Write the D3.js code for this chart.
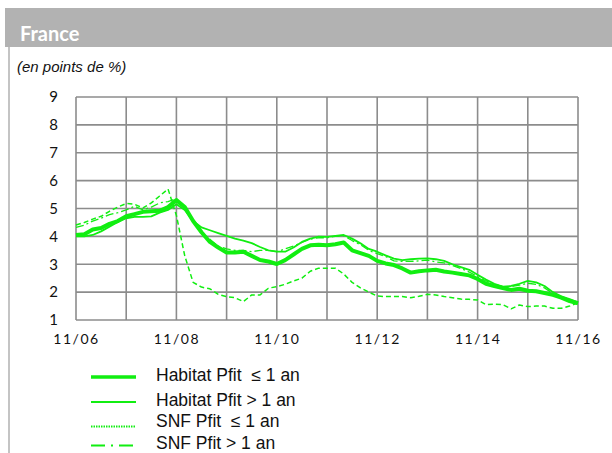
<!DOCTYPE html>
<meta charset="utf-8" />
<style>
  body { margin: 0; background: #fff; }
</style>
<svg width="612" height="453"></svg>
<script src="https://cdn.jsdelivr.net/npm/d3@7"></script>
<script>
    // one point every two months, 11/06 -> 11/16
    var habitatCourt = [4.05, 4.08, 4.25, 4.30, 4.45, 4.55, 4.72, 4.80, 4.88, 4.90,
        4.92, 5.05, 5.30, 5.05, 4.55, 4.15, 3.80, 3.60, 3.42, 3.42,
        3.45, 3.30, 3.15, 3.10, 3.01, 3.15, 3.35, 3.55, 3.68, 3.70,
        3.68, 3.72, 3.78, 3.50, 3.40, 3.30, 3.12, 3.03, 2.97, 2.85,
        2.70, 2.75, 2.78, 2.80, 2.74, 2.70, 2.65, 2.60, 2.47, 2.30,
        2.22, 2.15, 2.08, 2.12, 2.05, 2.03, 1.97, 1.90, 1.80, 1.68, 1.60];
    var habitatLong = [4.00, 4.00, 4.05, 4.18, 4.35, 4.52, 4.65, 4.70, 4.70, 4.72,
        4.85, 4.95, 5.15, 4.95, 4.55, 4.32, 4.22, 4.12, 4.02, 3.92,
        3.85, 3.76, 3.62, 3.50, 3.45, 3.45, 3.60, 3.80, 3.92, 3.99,
        3.98, 4.02, 4.05, 3.92, 3.75, 3.55, 3.45, 3.32, 3.20, 3.15,
        3.18, 3.20, 3.21, 3.18, 3.12, 3.00, 2.90, 2.80, 2.62, 2.45,
        2.30, 2.20, 2.22, 2.30, 2.40, 2.35, 2.22, 2.00, 1.85, 1.75, 1.63];
    var snfCourt = [4.41, 4.50, 4.62, 4.72, 4.90, 5.05, 5.18, 5.15, 5.02, 5.20,
        5.45, 5.70, 4.75, 3.30, 2.35, 2.18, 2.12, 1.92, 1.84, 1.80,
        1.66, 1.90, 1.90, 2.14, 2.20, 2.28, 2.40, 2.50, 2.75, 2.86,
        2.86, 2.86, 2.65, 2.35, 2.15, 2.00, 1.86, 1.84, 1.84, 1.84,
        1.80, 1.85, 1.92, 1.90, 1.84, 1.80, 1.75, 1.74, 1.72, 1.55,
        1.57, 1.55, 1.40, 1.54, 1.48, 1.50, 1.50, 1.42, 1.42, 1.50, 1.62];
    var snfLong = [4.32, 4.40, 4.55, 4.65, 4.78, 4.85, 4.95, 5.08, 4.95, 5.05,
        5.20, 5.25, 5.35, 5.00, 4.50, 4.10, 3.90, 3.65, 3.55, 3.50,
        3.50, 3.45, 3.50, 3.50, 3.45, 3.55, 3.65, 3.78, 3.90, 3.95,
        3.95, 4.00, 4.02, 3.85, 3.70, 3.50, 3.38, 3.28, 3.12, 3.10,
        3.10, 3.12, 3.15, 3.08, 3.05, 2.95, 2.85, 2.72, 2.55, 2.40,
        2.28, 2.20, 2.20, 2.25, 2.32, 2.28, 2.15, 1.95, 1.82, 1.70, 1.62];

    var xTickLabels = ["11/06", "11/08", "11/10", "11/12", "11/14", "11/16"];
    var yTicks = [1, 2, 3, 4, 5, 6, 7, 8, 9];

    var series = [
        { name: "Habitat Pfit  \u2264 1 an", values: habitatCourt, width: 4, dash: null, legDash: null },
        { name: "Habitat Pfit > 1 an", values: habitatLong, width: 1.8, dash: null, legDash: null },
        { name: "SNF Pfit  \u2264 1 an", values: snfCourt, width: 1.5, dash: "5,3", legDash: "1.5,1" },
        { name: "SNF Pfit > 1 an", values: snfLong, width: 1.3, dash: "8,3,2,3", legDash: "14,6,2,6" }
    ];

    var green = "#11ee11";
    var gridColor = "#8c8c8c";

    var svg = d3.select("svg");

    // header
    svg.append("rect").attr("x", 5).attr("y", 8).attr("width", 607).attr("height", 39)
        .attr("fill", "#b2b2b2");
    svg.append("line").attr("x1", 9).attr("x2", 9).attr("y1", 47).attr("y2", 453)
        .attr("stroke", "#c4c4c4").attr("stroke-width", 2);
    svg.append("text").attr("x", 20).attr("y", 41).text("France")
        .attr("fill", "#fff").attr("font-family", "Lato, 'Open Sans', sans-serif")
        .attr("font-weight", "bold").attr("font-size", 20);
    svg.append("text").attr("x", 17).attr("y", 72).text("(en points de %)")
        .attr("font-family", "'Liberation Sans', Arial, sans-serif")
        .attr("font-style", "italic").attr("font-size", 15).attr("fill", "#111");

    var plotL = 76, plotR = 578, plotT = 97, plotB = 320;

    var x = d3.scaleLinear().domain([0, 120]).range([plotL, plotR]);
    var y = d3.scaleLinear().domain([1, 9]).range([plotB, plotT]);

    // grid
    var grid = svg.append("g");
    grid.selectAll(".h").data(yTicks).enter().append("line")
        .attr("x1", plotL).attr("x2", plotR)
        .attr("y1", d => y(d)).attr("y2", d => y(d))
        .attr("stroke", gridColor).attr("stroke-width", 1.6);
    grid.selectAll(".v").data(d3.range(0, 121, 12)).enter().append("line")
        .attr("y1", plotT).attr("y2", plotB)
        .attr("x1", d => x(d)).attr("x2", d => x(d))
        .attr("stroke", gridColor).attr("stroke-width", 1.6);

    // y axis labels
    var yAxis = svg.append("g").attr("transform", "translate(" + (plotL - 15) + ",0)")
        .call(d3.axisLeft(y).tickValues(yTicks).tickSize(0).tickFormat(d3.format("d")));
    yAxis.select(".domain").remove();
    yAxis.selectAll("text").attr("font-family", "Lato, sans-serif").attr("font-size", 15)
        .attr("fill", "#111");

    // x axis labels
    var xAxis = svg.append("g").attr("transform", "translate(0," + (plotB + 11) + ")")
        .call(d3.axisBottom(x).tickValues(d3.range(0, 121, 24)).tickSize(0)
            .tickFormat((d, i) => xTickLabels[i]));
    xAxis.select(".domain").remove();
    xAxis.selectAll("text").attr("font-family", "Lato, sans-serif").attr("font-size", 14)
        .attr("letter-spacing", 1.5).attr("fill", "#111");

    // lines
    var line = d3.line().x((d, i) => x(i * 2)).y(d => y(d));
    svg.append("g").selectAll("path").data(series.slice().reverse()).enter().append("path")
        .attr("d", d => line(d.values))
        .attr("fill", "none")
        .attr("stroke", green)
        .attr("stroke-width", d => d.width)
        .attr("stroke-dasharray", d => d.dash)
        .attr("stroke-linejoin", "round");

    // legend
    var legLineY = [377, 402, 426.5, 445.5];
    var legTextY = [381, 406, 427, 449];
    var legend = svg.append("g").selectAll("g").data(series).enter().append("g");
    legend.append("line").attr("x1", 91).attr("x2", 136)
        .attr("y1", (d, i) => legLineY[i]).attr("y2", (d, i) => legLineY[i])
        .attr("stroke", green)
        .attr("stroke-width", d => d.width === 4 ? 3.5 : 1.8)
        .attr("stroke-dasharray", d => d.legDash);
    legend.append("text").attr("x", 156).attr("y", (d, i) => legTextY[i]).text(d => d.name)
        .attr("font-family", "'Liberation Sans', Arial, sans-serif").attr("font-size", 17.5)
        .attr("fill", "#111").style("white-space", "pre");
</script>
